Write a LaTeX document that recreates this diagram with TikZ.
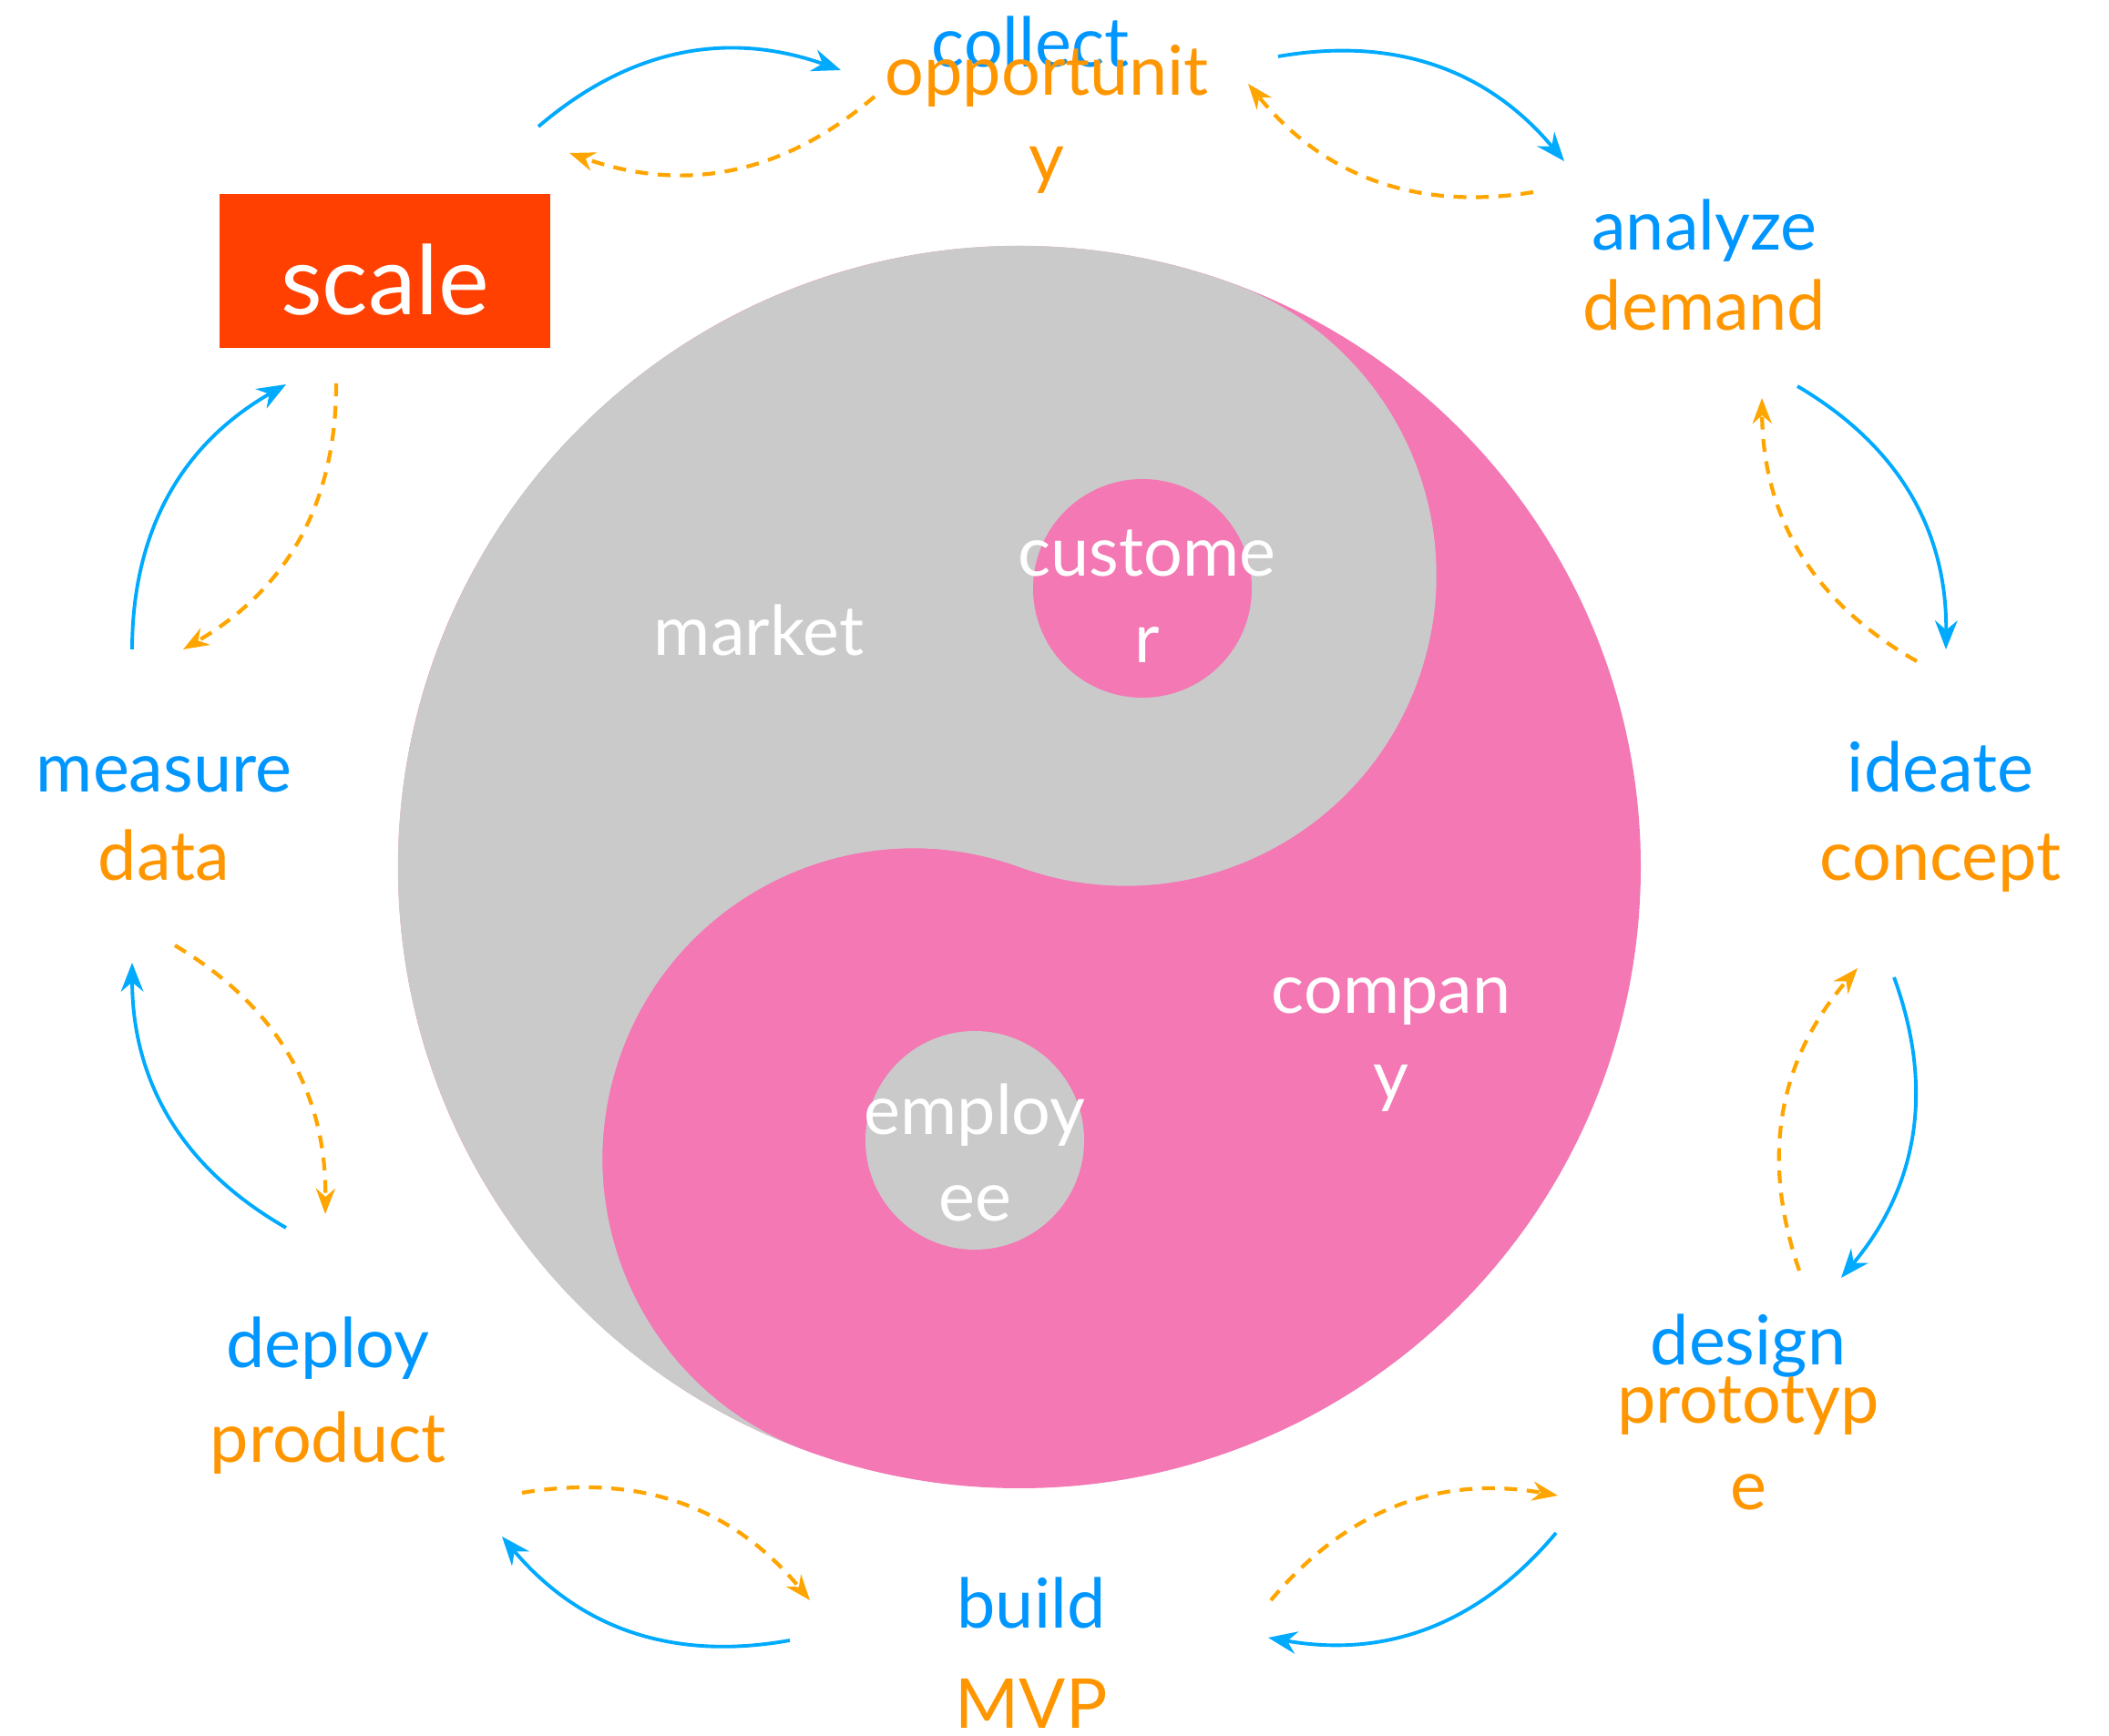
\documentclass[tikz,border=0pt]{standalone}
\usepackage{fontspec}
\setmainfont{Lato}
\usetikzlibrary{arrows.meta}

\definecolor{stepblue}{RGB}{0,150,255}
\definecolor{steporange}{RGB}{255,150,0}
\definecolor{arrowblue}{RGB}{0,170,255}
\definecolor{arroworange}{RGB}{255,165,0}
\definecolor{scalered}{RGB}{255,64,0}
\definecolor{yinpink}{RGB}{243,120,180}
\definecolor{yangrey}{RGB}{202,202,202}

\begin{document}
\begin{tikzpicture}[
    verb/.style={font=\fontsize{21.5}{27.3}\selectfont, text=stepblue, anchor=base, inner sep=0pt, align=center},
    noun/.style={verb, text=steporange},
    inner/.style={verb, text=white},
    dot/.style={circle, minimum size=2.4cm, inner sep=0pt},
    fwd/.style={-{Stealth[length=9pt, width=7pt]}, arrowblue, line width=1.1pt},
    back/.style={-{Stealth[length=8pt, width=6pt]}, arroworange, line width=1.2pt, dash pattern=on 4pt off 3pt},
]
    \useasboundingbox (0,0) rectangle (23.15,19.05);

    % Yin-yang: pink disc, grey half with the two small lobes
    \coordinate (o) at (11.19,9.53);
    \fill[yinpink] (o) circle (6.82);
    \fill[yangrey] (o) ++(70:6.82)
        arc[start angle=70, end angle=250, radius=6.82]
        arc[start angle=250, end angle=70, radius=3.41]
        arc[start angle=250, end angle=430, radius=3.41] -- cycle;
    \node[dot, fill=yinpink] (custdot) at (12.54,12.59) {};
    \node[dot, fill=yangrey] (empdot) at (10.70,6.53) {};

    % two-line labels sit on the baseline of their last line
    \node[inner] (market) at (8.33,11.85) {market};
    \node[inner] (customer) at (12.59,11.77) {custome\\r};
    \node[inner] (company) at (15.27,6.97) {compan\\y};
    \node[inner] (employee) at (10.70,5.64) {employ\\ee};

    % Steps round the circle
    \foreach \n/\x/\y in {collect/11.31/18.31, analyze/18.71/16.30,
        ideate/21.30/10.35, design/19.19/4.06, build/11.32/1.17,
        deploy/3.60/4.03, measure/1.80/10.35}
    {
        \node[verb] (\n) at (\x,\y) {\n};
    }
    \node[noun] (opportunity) at (11.49,17.05) {opportunit\\y};
    \node[noun] (demand) at (18.71,15.42) {demand};
    \node[noun] (concept) at (21.30,9.38) {concept};
    \node[noun] (prototype) at (19.19,2.47) {prototyp\\e};
    \node[noun] (mvp) at (11.32,0.08) {MVP};
    \node[noun] (product) at (3.60,2.99) {product};
    \node[noun] (data) at (1.80,9.38) {data};

    \node[fill=scalered, text=white, font=\fontsize{30}{36}\selectfont,
        minimum width=3.63cm, minimum height=1.69cm,
        text height=0.97cm, text depth=0pt] (scale) at (4.225,16.075) {scale};

    % Arrow ends, one pair per gap
    \coordinate (f1s) at (5.91,17.66);  \coordinate (f1e) at (9.23,18.28);
    \coordinate (b1s) at (9.60,17.99);  \coordinate (b1e) at (6.25,17.37);
    \coordinate (f2s) at (14.03,18.43); \coordinate (f2e) at (17.17,17.28);
    \coordinate (b2s) at (16.83,16.94); \coordinate (b2e) at (13.70,18.13);
    \coordinate (f3s) at (19.73,14.81); \coordinate (f3e) at (21.36,11.92);
    \coordinate (b3s) at (21.04,11.79); \coordinate (b3e) at (19.34,14.68);
    \coordinate (f4s) at (20.79,8.32);  \coordinate (f4e) at (20.21,5.02);
    \coordinate (b4s) at (19.75,5.10);  \coordinate (b4e) at (20.39,8.42);
    \coordinate (f5s) at (17.08,2.22);  \coordinate (f5e) at (13.92,1.07);
    \coordinate (b5s) at (13.95,1.48);  \coordinate (b5e) at (17.10,2.63);
    \coordinate (f6s) at (8.67,1.04);   \coordinate (f6e) at (5.51,2.18);
    \coordinate (b6s) at (5.73,2.66);   \coordinate (b6e) at (8.89,1.48);
    \coordinate (f7s) at (3.14,5.57);   \coordinate (f7e) at (1.45,8.48);
    \coordinate (b7s) at (1.92,8.67);   \coordinate (b7e) at (3.57,5.72);
    \coordinate (f8s) at (1.45,11.92);  \coordinate (f8e) at (3.14,14.83);
    \coordinate (b8s) at (3.69,14.84);  \coordinate (b8e) at (2.01,11.92);

    % Clockwise solid, counter-clockwise dashed
    \foreach \i in {1,...,8}
    {
        \draw[fwd] (f\i s) to[bend left=30] (f\i e);
        \draw[back] (b\i s) to[bend left=30] (b\i e);
    }
\end{tikzpicture}
\end{document}
